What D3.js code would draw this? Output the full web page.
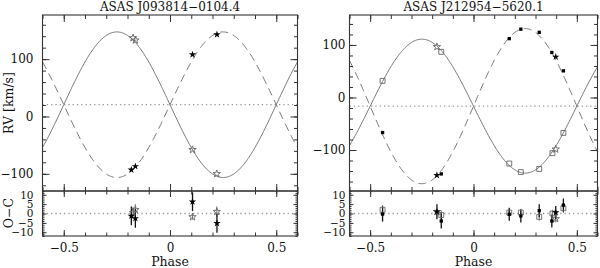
<!DOCTYPE html>
<html lang="en">
<head>
  <meta charset="UTF-8">
  <title>ASAS RV curves</title>
  <script src="https://d3js.org/d3.v7.min.js"></script>
  <style>
    * { margin: 0; padding: 0; }
    body { background: #fff; }
    svg { display: block; font-family: 'DejaVu Serif', serif; }
    .frame { fill: none; stroke: #333; stroke-width: 1.1; }
    .axis .domain { display: none; }
    .axis line { stroke: #333; stroke-width: 1; }
    .axis text { font-family: 'DejaVu Serif', serif; font-size: 12px; fill: #111; }
    .axis.oc text { font-size: 10.5px; }
    .fit { fill: none; stroke: #777; stroke-width: 1; }
    .fit.sec { stroke-dasharray: 8,5; }
    .gamma { stroke: #999; stroke-width: 1.3; stroke-dasharray: 1.3,3; }
    .label { font-size: 12.5px; fill: #111; }
    .title { font-size: 12px; fill: #111; }
  </style>
</head>
<body>
<svg width="600" height="268"></svg>
<script>
  // tick labels
  var phaseMajor = [-0.5, 0, 0.5];
  var rvMajor = [-100, 0, 100];
  var ocMajor = [-10, -5, 0, 5, 10];

  // ASAS J093814-0104.4
  var titleA = "ASAS J093814\u22120104.4";
  var fitA = [20.5, 127, 127];   // gamma, K1, K2
  var priPhaseA = [-0.174, -0.163, 0.106, 0.220];
  var priRvA = [137, 133, -58, -100];
  var priOcA = [0.5, 2, -1.8, 1];
  var priErrA = [3, 3, 1.5, 2.8];
  var priSymA = ["star", "star", "star", "star"];
  var secPhaseA = [-0.182, -0.163, 0.106, 0.221];
  var secRvA = [-93, -87, 108, 143];
  var secOcA = [-1.3, -2.6, 6.3, -5.2];
  var secErrA = [5, 5, 5, 5];
  var secSymA = ["star", "star", "star", "star"];

  // ASAS J212954-5620.1
  var titleB = "ASAS J212954\u22125620.1";
  var fitB = [-16.5, 127.5, 147.6];
  var priPhaseB = [-0.44, -0.177, -0.156, 0.173, 0.229, 0.318, 0.382, 0.398, 0.435];
  var priRvB = [31.6, 96.4, 86.9, -125.7, -142, -136, -106, -98.5, -67.4];
  var priOcB = [2, 1, -0.8, 0.5, 0.5, -1.8, 0, -2.8, 2.8];
  var priErrB = [2.5, 2, 2.5, 2, 2, 2, 2, 2, 2.5];
  var priSymB = ["square", "star", "square", "square", "square", "square", "square", "star", "square"];
  var secPhaseB = [-0.44, -0.177, -0.156, 0.173, 0.229, 0.318, 0.379, 0.398, 0.435];
  var secRvB = [-66.7, -148, -145.5, 112, 130, 124, 85.7, 77.3, 50.7];
  var secOcB = [-0.3, 1, -4, -0.4, -1.3, 1.5, -4, 0.5, 4.5];
  var secErrB = [4, 4, 4, 3.5, 3.5, 3.5, 3.5, 3.5, 3.5];
  var secSymB = ["square", "star", "square", "square", "square", "square", "square", "star", "square"];

  function pts(ph, rv, oc, err, sym) {
    return ph.map(function(p, i) { return {p: p, rv: rv[i], oc: oc[i], err: err[i], sym: sym[i]}; });
  }

  var panels = [
    {title: titleA, fit: fitA, rv: [-130, 177], x0: 42.5, x1: 297.5, pad: 9, ylabel: true,
     pri: pts(priPhaseA, priRvA, priOcA, priErrA, priSymA),
     sec: pts(secPhaseA, secRvA, secOcA, secErrA, secSymA)},
    {title: titleB, fit: fitB, rv: [-178, 157], x0: 349.5, x1: 597.5, pad: 4, ylabel: false,
     pri: pts(priPhaseB, priRvB, priOcB, priErrB, priSymB),
     sec: pts(secPhaseB, secRvB, secOcB, secErrB, secSymB)}
  ];

  var top0 = 15, mid = 191, bot = 236;
  var svg = d3.select("svg");
  var fmtPhase = function(d) { return d === 0 ? "0" : d3.format(".1f")(d); };
  var minorX = d3.range(-6, 7).map(function(i) { return i / 10; });

  function symPath(d, filled) {
    var type = d.sym === "star" ? d3.symbolStar : d3.symbolSquare;
    var size = d.sym === "star" ? 17 : (filled ? 11 : 24);
    return d3.symbol().type(type).size(size)();
  }

  function ticks(g, axis, cls) {
    g.attr("class", "axis" + (cls ? " " + cls : "")).call(axis);
  }

  panels.forEach(function(P) {
    var x = d3.scaleLinear().domain([-0.6, 0.6]).range([P.x0, P.x1]);
    var y = d3.scaleLinear().domain(P.rv).range([mid, top0]);
    var yo = d3.scaleLinear().domain([-12, 12]).range([bot, mid]);
    var minorRv = d3.range(Math.ceil(P.rv[0] / 20) * 20, P.rv[1], 20);
    var minorOc = d3.range(-12, 13, 1);
    var g = svg.append("g");

    // title
    g.append("text").attr("class", "title").attr("x", (P.x0 + P.x1) / 2).attr("y", 11)
      .attr("text-anchor", "middle").text(P.title);

    // dotted systemic velocity
    g.append("line").attr("class", "gamma").attr("x1", P.x0).attr("x2", P.x1)
      .attr("y1", y(P.fit[0])).attr("y2", y(P.fit[0]));
    g.append("line").attr("class", "gamma").attr("x1", P.x0).attr("x2", P.x1)
      .attr("y1", yo(0)).attr("y2", yo(0));

    // orbit fits
    var grid = d3.range(-0.6, 0.6001, 0.004);
    var line1 = d3.line().x(function(p) { return x(p); })
      .y(function(p) { return y(P.fit[0] - P.fit[1] * Math.sin(2 * Math.PI * p)); });
    var line2 = d3.line().x(function(p) { return x(p); })
      .y(function(p) { return y(P.fit[0] + P.fit[2] * Math.sin(2 * Math.PI * p)); });
    g.append("path").attr("class", "fit").attr("d", line1(grid));
    g.append("path").attr("class", "fit sec").attr("d", line2(grid));

    // error bars O-C
    g.selectAll(".ebp").data(P.pri).enter().append("line")
      .attr("x1", function(d) { return x(d.p); }).attr("x2", function(d) { return x(d.p); })
      .attr("y1", function(d) { return yo(d.oc - d.err); }).attr("y2", function(d) { return yo(d.oc + d.err); })
      .attr("stroke", "#777").attr("stroke-width", 1);
    g.selectAll(".ebs").data(P.sec).enter().append("line")
      .attr("x1", function(d) { return x(d.p); }).attr("x2", function(d) { return x(d.p); })
      .attr("y1", function(d) { return yo(d.oc - d.err); }).attr("y2", function(d) { return yo(d.oc + d.err); })
      .attr("stroke", "#111").attr("stroke-width", 1.3);

    // primary open, secondary filled
    [["rv", y], ["oc", yo]].forEach(function(k) {
      g.selectAll(".pp" + k[0]).data(P.pri).enter().append("path")
        .attr("transform", function(d) { return "translate(" + x(d.p) + "," + k[1](d[k[0]]) + ")"; })
        .attr("d", function(d) { return symPath(d, false); })
        .attr("fill", "none").attr("stroke", "#666").attr("stroke-width", 0.9);
      g.selectAll(".ps" + k[0]).data(P.sec).enter().append("path")
        .attr("transform", function(d) { return "translate(" + x(d.p) + "," + k[1](d[k[0]]) + ")"; })
        .attr("d", function(d) { return symPath(d, true); })
        .attr("fill", "#000");
    });

    // axes: inward ticks on all sides
    ticks(g.append("g").attr("transform", "translate(0," + top0 + ")"),
      d3.axisTop(x).tickValues(minorX).tickSize(-4).tickFormat(""));
    ticks(g.append("g").attr("transform", "translate(0," + top0 + ")"),
      d3.axisTop(x).tickValues(phaseMajor).tickSize(-7).tickFormat(""));
    ticks(g.append("g").attr("transform", "translate(0," + mid + ")"),
      d3.axisBottom(x).tickValues(minorX).tickSize(-4).tickFormat(""));
    ticks(g.append("g").attr("transform", "translate(0," + mid + ")"),
      d3.axisBottom(x).tickValues(phaseMajor).tickSize(-7).tickFormat(""));
    ticks(g.append("g").attr("transform", "translate(0," + mid + ")"),
      d3.axisTop(x).tickValues(minorX).tickSize(-3.5).tickFormat(""));
    ticks(g.append("g").attr("transform", "translate(0," + mid + ")"),
      d3.axisTop(x).tickValues(phaseMajor).tickSize(-6).tickFormat(""));
    ticks(g.append("g").attr("transform", "translate(0," + bot + ")"),
      d3.axisBottom(x).tickValues(minorX).tickSize(-3.5).tickFormat(""));
    ticks(g.append("g").attr("transform", "translate(0," + bot + ")"),
      d3.axisBottom(x).tickValues(phaseMajor).tickSize(-6).tickPadding(7.5).tickFormat(fmtPhase));

    ticks(g.append("g").attr("transform", "translate(" + P.x0 + ",0)"),
      d3.axisLeft(y).tickValues(minorRv).tickSize(-3.5).tickFormat(""));
    ticks(g.append("g").attr("transform", "translate(" + P.x0 + ",0)"),
      d3.axisLeft(y).tickValues(rvMajor).tickSize(-7).tickPadding(P.pad).tickFormat(d3.format("d")));
    ticks(g.append("g").attr("transform", "translate(" + P.x1 + ",0)"),
      d3.axisRight(y).tickValues(minorRv).tickSize(-3.5).tickFormat(""));
    ticks(g.append("g").attr("transform", "translate(" + P.x1 + ",0)"),
      d3.axisRight(y).tickValues(rvMajor).tickSize(-7).tickFormat(""));

    ticks(g.append("g").attr("transform", "translate(" + P.x0 + ",0)"),
      d3.axisLeft(yo).tickValues(minorOc).tickSize(-2).tickFormat(""));
    ticks(g.append("g").attr("transform", "translate(" + P.x0 + ",0)"),
      d3.axisLeft(yo).tickValues(ocMajor).tickSize(-4).tickPadding(P.pad).tickFormat(d3.format("d")), "oc");
    ticks(g.append("g").attr("transform", "translate(" + P.x1 + ",0)"),
      d3.axisRight(yo).tickValues(minorOc).tickSize(-2).tickFormat(""));
    ticks(g.append("g").attr("transform", "translate(" + P.x1 + ",0)"),
      d3.axisRight(yo).tickValues(ocMajor).tickSize(-4).tickFormat(""));

    // frames
    g.append("rect").attr("class", "frame").attr("x", P.x0).attr("y", top0)
      .attr("width", P.x1 - P.x0).attr("height", mid - top0);
    g.append("rect").attr("class", "frame").attr("x", P.x0).attr("y", mid)
      .attr("width", P.x1 - P.x0).attr("height", bot - mid);

    g.append("text").attr("class", "label").attr("x", (P.x0 + P.x1) / 2).attr("y", 266)
      .attr("text-anchor", "middle").text("Phase");
    if (P.ylabel) {
      g.append("text").attr("class", "label").attr("transform", "translate(13,103) rotate(-90)")
        .attr("text-anchor", "middle").text("RV [km/s]");
      g.append("text").attr("class", "label").attr("transform", "translate(13,213) rotate(-90)")
        .attr("text-anchor", "middle").text("O\u2212C");
    }
  });
</script>
</body>
</html>
